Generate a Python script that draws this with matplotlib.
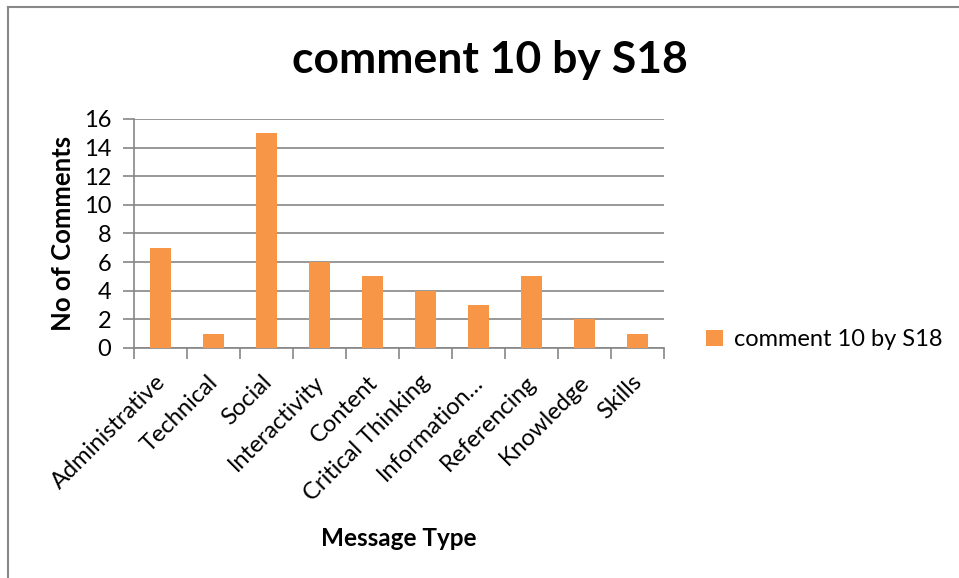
import numpy as np
import matplotlib.pyplot as plt
import matplotlib.transforms as mtransforms
from matplotlib.lines import Line2D

categories = ["Administrative", "Technical", "Social", "Interactivity", "Content",
              "Critical Thinking", "Information…", "Referencing", "Knowledge", "Skills"]
counts = [7, 1, 15, 6, 5, 4, 3, 5, 2, 1]
series_name = "comment 10 by S18"

plt.rcParams['font.family'] = ['Lato', 'DejaVu Sans']

fig = plt.figure(figsize=(9.59, 5.78), dpi=100)
ax = fig.add_axes([134 / 959, 1 - 348 / 578, 530 / 959, 229 / 578])

x = np.arange(len(categories))
ax.bar(x, counts, width=0.4, color="#F79646", label=series_name, zorder=3)

ax.set_xlim(-0.5, len(categories) - 0.5)
ax.set_ylim(0, 16)
ax.set_yticks(range(0, 17, 2))
ax.grid(axis="y", color="#868686", linewidth=1.2, zorder=0)

for side in ["top", "right"]:
    ax.spines[side].set_visible(False)
for side in ["left", "bottom"]:
    ax.spines[side].set_color("#868686")
    ax.spines[side].set_linewidth(1.2)

ax.set_xticks(x)
ax.set_xticklabels(categories, rotation=45, ha="right", rotation_mode="anchor")
ax.set_xticks(np.arange(-0.5, len(categories)), minor=True)
ax.tick_params(axis="x", which="major", length=0, pad=17, labelsize=17)
ax.tick_params(axis="x", which="minor", length=8, width=1.2, color="#868686")
ax.tick_params(axis="y", length=8, width=1.2, color="#868686", labelsize=17, pad=8.5)

# nudge the slanted category labels a little to the left
shift = mtransforms.ScaledTranslation(-6 / 100, 0, fig.dpi_scale_trans)
for lbl in ax.get_xticklabels():
    lbl.set_transform(lbl.get_transform() + shift)

ax.set_xlabel("Message Type", fontsize=17.5, fontweight="bold", labelpad=15.5)
ax.set_ylabel("No of Comments", fontsize=18.5, fontweight="bold", labelpad=6)
fig.suptitle(series_name, fontsize=32, fontweight="bold", x=490 / 959, y=1 - 60 / 578, va="center")

ax.legend(loc="center left", bbox_to_anchor=(1.04, 0.035), frameon=False, fontsize=17,
          handlelength=0.7, handleheight=0.7, handletextpad=0.45)

# thin frame lines along the top and left edge
fig.add_artist(Line2D([8 / 959, 8 / 959], [0, 1 - 7 / 578], transform=fig.transFigure,
                      color="#888888", linewidth=1.5))
fig.add_artist(Line2D([8 / 959, 1], [1 - 7 / 578, 1 - 7 / 578], transform=fig.transFigure,
                      color="#888888", linewidth=1.5))

fig.savefig("out.png", dpi=100)
